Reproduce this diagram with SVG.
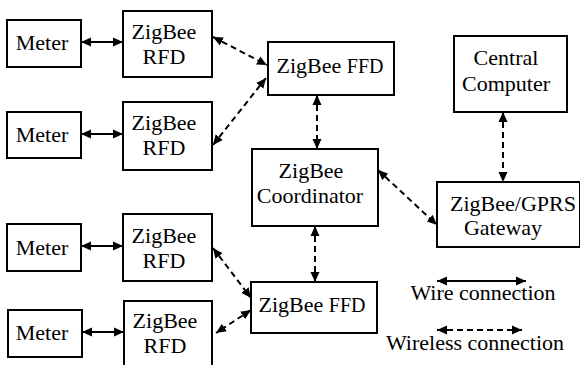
<svg xmlns="http://www.w3.org/2000/svg" width="580" height="365" viewBox="0 0 580 365">
  <style>
    .box { fill: #fff; stroke: #000; stroke-width: 2; }
    .lbl { font-family: 'Liberation Serif', 'Times New Roman', serif; font-size: 22px; fill: #000; text-anchor: middle; }
    .wire { stroke: #000; stroke-width: 2; fill: none; marker-start: url(#tip); marker-end: url(#tip); }
    .radio { stroke: #000; stroke-width: 2; fill: none; stroke-dasharray: 6 4; marker-start: url(#tip); marker-end: url(#tip); }
  </style>
  <defs>
    <!-- solid triangular arrowhead shared by wired and wireless links -->
    <marker id="tip" markerUnits="userSpaceOnUse" markerWidth="10" markerHeight="10" refX="10" refY="5" orient="auto-start-reverse">
      <path d="M0,0.5 L10,5 L0,9.5 z" fill="#000"/>
    </marker>
  </defs>
  <rect width="580" height="365" fill="#fff"/>

  <!-- connectors -->
  <g id="connectors">
    <line class="wire" x1="81" y1="42" x2="123" y2="42"/>
    <line class="wire" x1="81" y1="134" x2="123" y2="134"/>
    <line class="wire" x1="81" y1="246" x2="123" y2="246"/>
    <line class="wire" x1="82" y1="332" x2="124" y2="332"/>
    <line class="radio" x1="213" y1="37" x2="267" y2="65"/>
    <line class="radio" x1="213" y1="145" x2="266" y2="78"/>
    <line class="radio" x1="317" y1="95" x2="317" y2="149"/>
    <line class="radio" x1="315" y1="226" x2="315" y2="282"/>
    <line class="radio" x1="378" y1="170" x2="437" y2="225"/>
    <line class="radio" x1="503" y1="112" x2="503" y2="182"/>
    <line class="radio" x1="213" y1="248" x2="251" y2="298"/>
    <line class="radio" x1="251" y1="310" x2="216" y2="333"/>
  </g>

  <g id="meter1">
    <rect class="box" x="7" y="20" width="74" height="47"/>
    <text class="lbl" x="42" y="50">Meter</text>
  </g>
  <g id="rfd1">
    <rect class="box" x="123" y="11" width="89" height="66"/>
    <text class="lbl" x="164" y="39">ZigBee</text>
    <text class="lbl" x="164" y="64">RFD</text>
  </g>
  <g id="meter2">
    <rect class="box" x="7" y="112" width="74" height="46"/>
    <text class="lbl" x="42" y="142">Meter</text>
  </g>
  <g id="rfd2">
    <rect class="box" x="123" y="102" width="89" height="68"/>
    <text class="lbl" x="164" y="130">ZigBee</text>
    <text class="lbl" x="164" y="155">RFD</text>
  </g>
  <g id="meter3">
    <rect class="box" x="7" y="224" width="74" height="47"/>
    <text class="lbl" x="42" y="255">Meter</text>
  </g>
  <g id="rfd3">
    <rect class="box" x="123" y="214" width="89" height="67"/>
    <text class="lbl" x="164" y="243">ZigBee</text>
    <text class="lbl" x="164" y="268">RFD</text>
  </g>
  <g id="meter4">
    <rect class="box" x="8" y="310" width="74" height="47"/>
    <text class="lbl" x="42" y="340">Meter</text>
  </g>
  <g id="rfd4">
    <rect class="box" x="124" y="301" width="88" height="70"/>
    <text class="lbl" x="165" y="328">ZigBee</text>
    <text class="lbl" x="165" y="353">RFD</text>
  </g>
  <g id="ffd1">
    <rect class="box" x="268" y="42" width="126" height="53"/>
    <text class="lbl" x="330" y="73">ZigBee <tspan font-size="20">FFD</tspan></text>
  </g>
  <g id="coordinator">
    <rect class="box" x="252" y="149" width="126" height="77"/>
    <text class="lbl" x="311" y="178">ZigBee</text>
    <text class="lbl" x="310" y="203">Coordinator</text>
  </g>
  <g id="ffd2">
    <rect class="box" x="251" y="282" width="126" height="51"/>
    <text class="lbl" x="312" y="312">ZigBee <tspan font-size="20">FFD</tspan></text>
  </g>
  <g id="central-computer">
    <rect class="box" x="454" y="36" width="113" height="76"/>
    <text class="lbl" x="506" y="65">Central</text>
    <text class="lbl" x="506" y="91">Computer</text>
  </g>
  <g id="gateway">
    <rect class="box" x="437" y="182" width="143" height="65"/>
    <text class="lbl" x="513" y="211">ZigBee/GPRS</text>
    <text class="lbl" x="503" y="235">Gateway</text>
  </g>

  <g id="legend">
    <line class="wire" x1="437" y1="281" x2="526" y2="281"/>
    <text class="lbl" x="483" y="300">Wire connection</text>
    <line class="radio" x1="437" y1="330" x2="522" y2="330"/>
    <text class="lbl" x="475" y="350">Wireless connection</text>
  </g>
</svg>
